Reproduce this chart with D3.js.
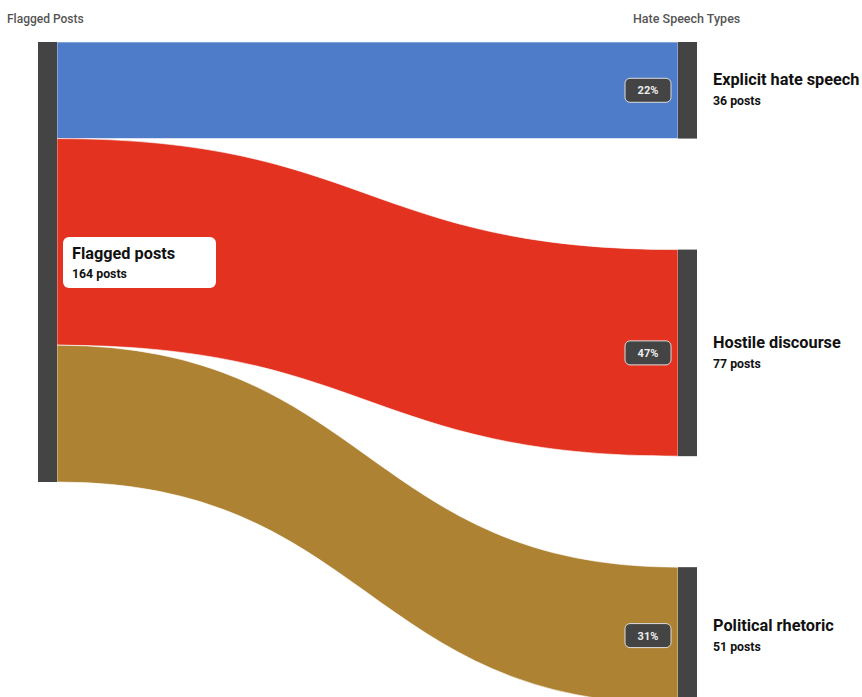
<!DOCTYPE html>
<html>
<head>
<meta charset="utf-8">
<script src="https://cdn.jsdelivr.net/npm/d3@7"></script>
<style>
  body { margin: 0; background: #fff; font-family: Roboto, "Noto Sans", sans-serif; }
  svg { display: block; }
</style>
</head>
<body>
<svg id="chart"></svg>
<script>
// data
var sourceName = "Flagged posts";
var sourceTotal = 164;
var categories = ["Explicit hate speech", "Hostile discourse", "Political rhetoric"];
var values = [36, 77, 51];
var percents = ["22%", "47%", "31%"];
var colors = ["#4e7cc8", "#e3321f", "#ae8233"];

var width = 862, height = 697;
var top0 = 42, gap = 111;
var leftX0 = 38, leftX1 = 57, rightX0 = 678, rightX1 = 697;

var svg = d3.select("#chart").attr("width", width).attr("height", height);

// posts -> pixels
var k = d3.scaleLinear().domain([0, sourceTotal]).range([0, 440]);

// layout of nodes
var links = [];
var ls = top0, rs = top0;
values.forEach(function(v, i) {
  var h = k(v);
  links.push({name: categories[i], value: v, pct: percents[i], color: colors[i],
    sy0: ls, sy1: ls + h, ty0: rs, ty1: rs + h});
  ls += h;
  rs += h + gap;
});

function band(d) {
  var p = d3.path();
  var xm = (leftX1 + rightX0) / 2;
  p.moveTo(leftX1, d.sy0);
  p.bezierCurveTo(xm, d.sy0, xm, d.ty0, rightX0, d.ty0);
  p.lineTo(rightX0, d.ty1);
  p.bezierCurveTo(xm, d.ty1, xm, d.sy1, leftX1, d.sy1);
  p.closePath();
  return p.toString();
}

svg.append("g").selectAll("path")
  .data(links)
  .enter().append("path")
    .attr("d", band)
    .attr("fill", d => d.color)
    .attr("stroke", "#fff")
    .attr("stroke-opacity", 0.6)
    .attr("stroke-width", 1);

// nodes
svg.append("rect")
  .attr("x", leftX0).attr("y", top0)
  .attr("width", leftX1 - leftX0).attr("height", k(sourceTotal))
  .attr("fill", "#444");

svg.append("g").selectAll("rect")
  .data(links)
  .enter().append("rect")
    .attr("x", rightX0).attr("y", d => d.ty0)
    .attr("width", rightX1 - rightX0).attr("height", d => d.ty1 - d.ty0)
    .attr("fill", "#444");

// column headers
svg.append("text").attr("x", 7).attr("y", 23)
  .attr("font-size", 12).attr("font-weight", 500).attr("fill", "#555")
  .text("Flagged Posts");
svg.append("text").attr("x", 633).attr("y", 23)
  .attr("font-size", 12.5).attr("font-weight", 500).attr("fill", "#555")
  .text("Hate Speech Types");

// source label box
var sb = svg.append("g");
sb.append("rect").attr("x", 63).attr("y", 237).attr("width", 153).attr("height", 51)
  .attr("rx", 6).attr("fill", "#fff");
sb.append("text").attr("x", 72).attr("y", 259)
  .attr("font-size", 16.3).attr("font-weight", 700).attr("fill", "#111")
  .text(sourceName);
sb.append("text").attr("x", 72).attr("y", 278)
  .attr("font-size", 12.3).attr("font-weight", 700).attr("fill", "#111")
  .text(sourceTotal + " posts");

// percent badges and target labels
var tg = svg.append("g").selectAll("g")
  .data(links)
  .enter().append("g")
    .attr("transform", d => "translate(0," + (d.ty0 + d.ty1) / 2 + ")");

tg.append("rect")
  .attr("x", 625).attr("y", -12).attr("width", 46).attr("height", 24)
  .attr("rx", 5).attr("fill", "#444").attr("stroke", "#ddd").attr("stroke-width", 1);
tg.append("text")
  .attr("x", 648).attr("y", 4).attr("text-anchor", "middle")
  .attr("font-size", 11).attr("font-weight", 700).attr("fill", "#eee")
  .text(d => d.pct);
tg.append("text")
  .attr("x", 713).attr("y", -5)
  .attr("font-size", 16.3).attr("font-weight", 700).attr("fill", "#111")
  .text(d => d.name);
tg.append("text")
  .attr("x", 713).attr("y", 15)
  .attr("font-size", 12.3).attr("font-weight", 700).attr("fill", "#111")
  .text(d => d.value + " posts");
</script>
</body>
</html>
